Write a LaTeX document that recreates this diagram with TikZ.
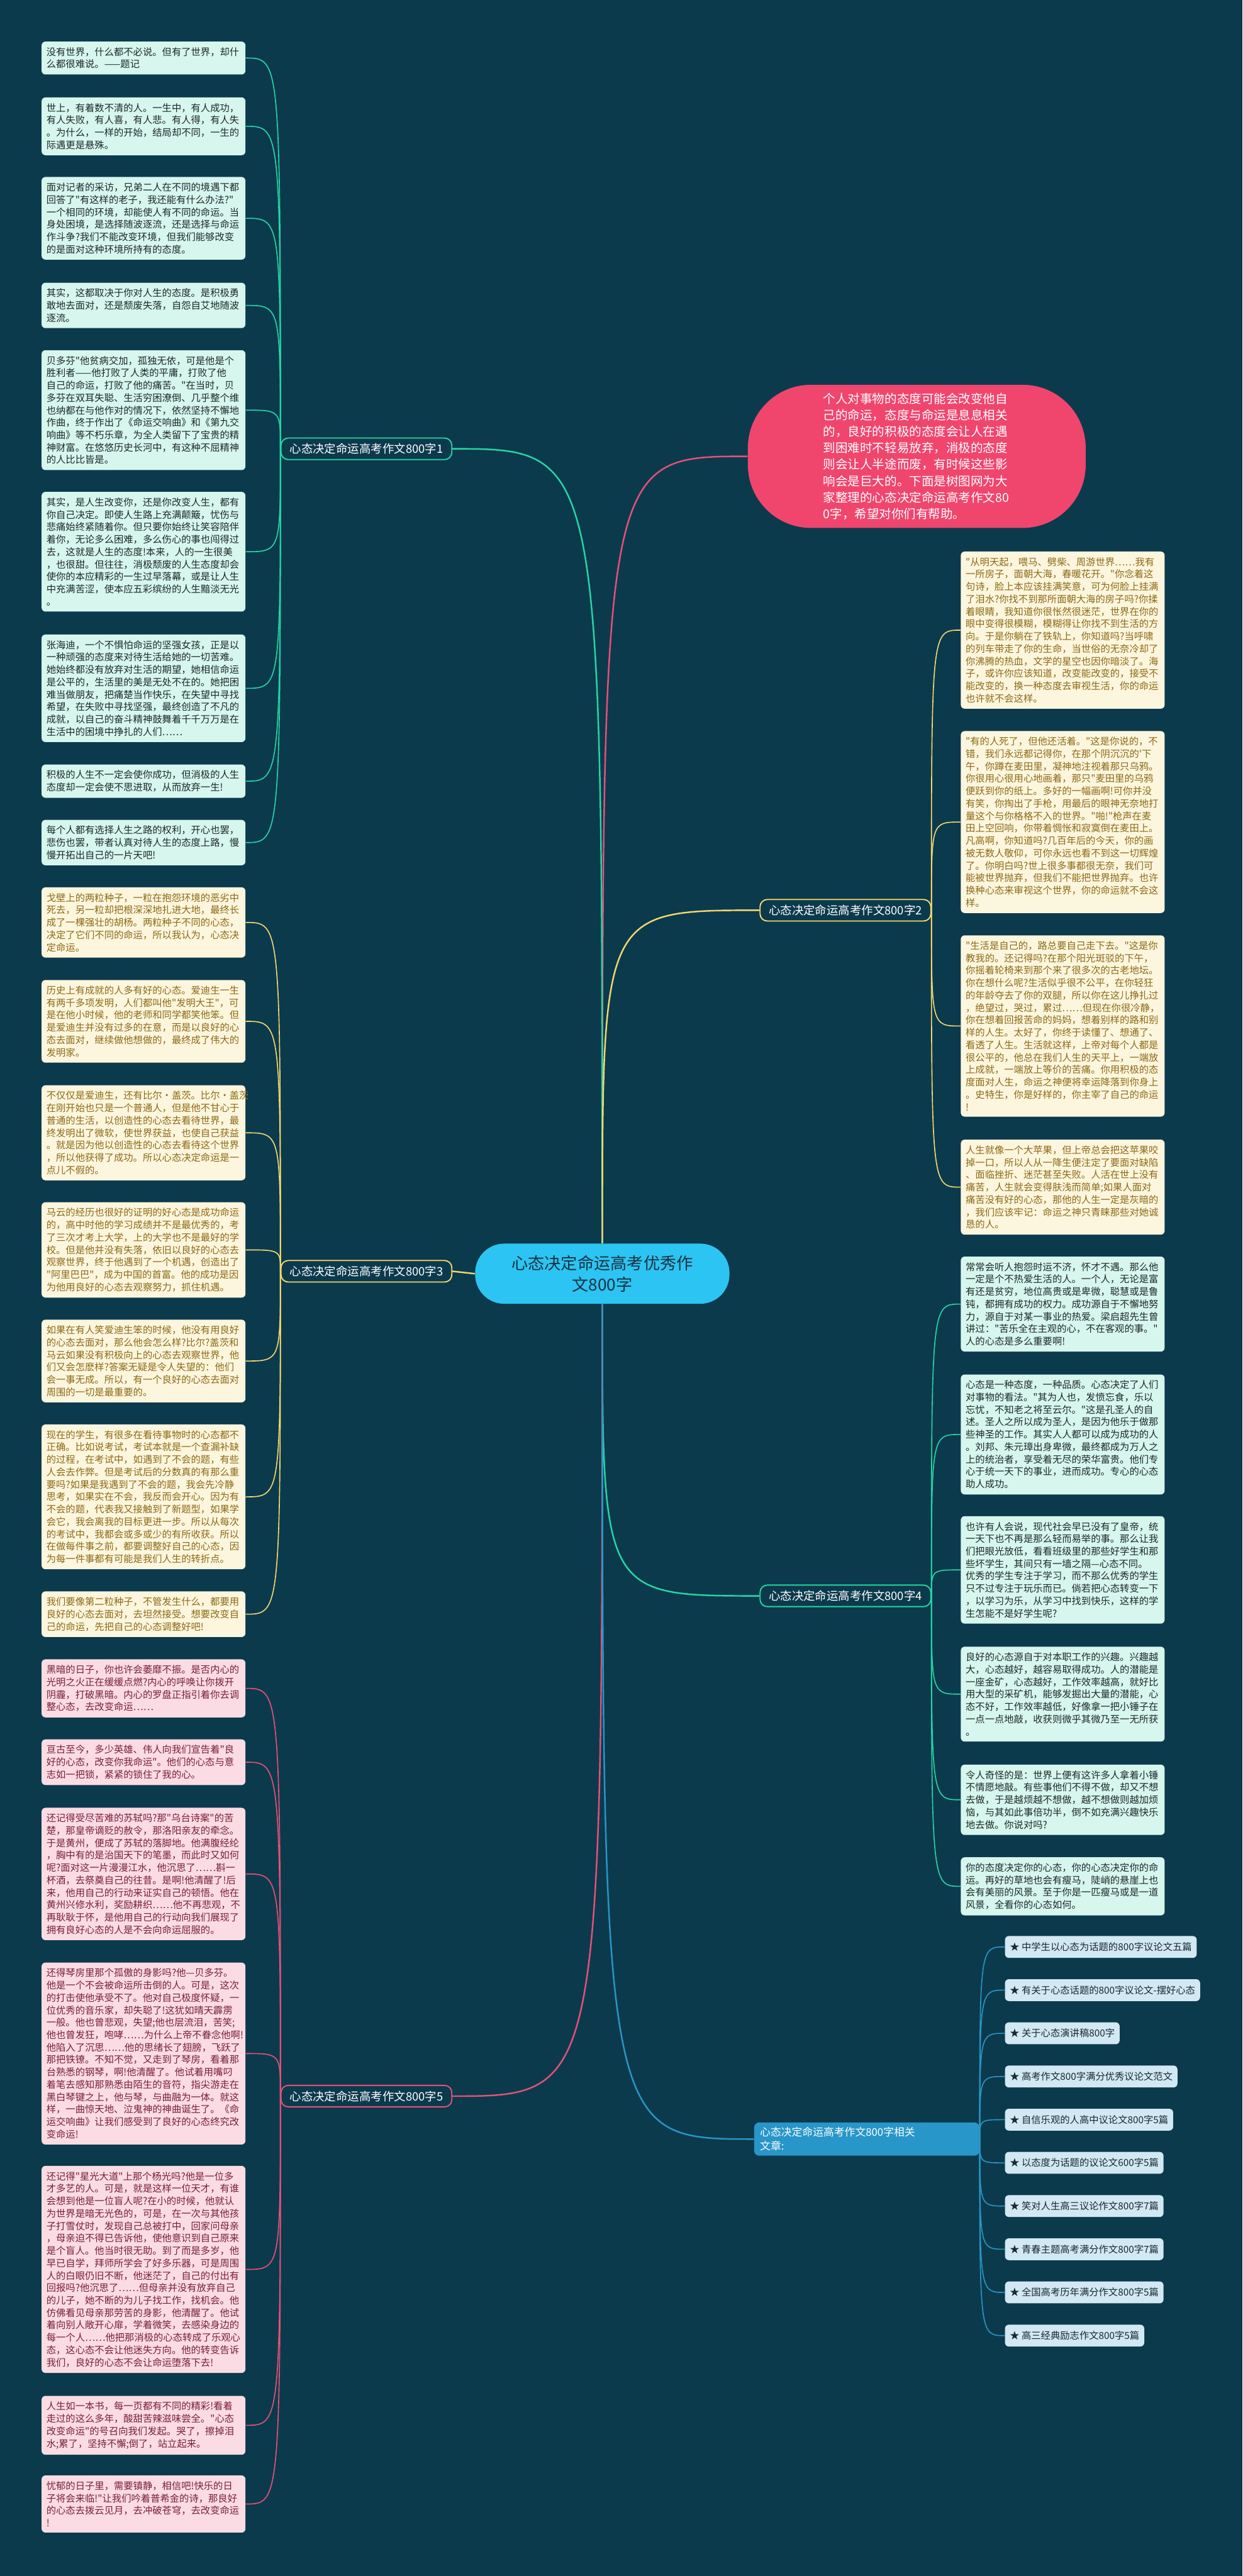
\documentclass[tikz,border=0pt]{standalone}
\usepackage{fontspec}
\newfontfamily\cjk{Noto Sans CJK SC}

\definecolor{bgc}{RGB}{12,58,77}
\definecolor{tealc}{RGB}{38,214,163}
\definecolor{tealfill}{RGB}{214,246,238}
\definecolor{tealtext}{RGB}{30,40,40}
\definecolor{yelc}{RGB}{245,215,110}
\definecolor{yelfill}{RGB}{253,246,222}
\definecolor{yeltext}{RGB}{140,105,20}
\definecolor{pinkc}{RGB}{232,80,120}
\definecolor{pinkfill}{RGB}{251,220,228}
\definecolor{pinktext}{RGB}{120,30,60}
\definecolor{bluec}{RGB}{40,150,200}
\definecolor{bluefill}{RGB}{210,232,242}
\definecolor{bluetext}{RGB}{25,40,50}
\definecolor{introfill}{RGB}{240,70,110}
\definecolor{ctrfill}{RGB}{44,196,242}
\definecolor{ctrtext}{RGB}{25,50,65}

\begin{document}
\begin{tikzpicture}[
    box/.style={anchor=north west, rounded corners=0.08cm, text width=4cm,
      inner xsep=0.1cm, inner ysep=0.12cm, align=left,
      font=\cjk\fontsize{5.65}{7.28}\selectfont},
    tbox/.style={box, fill=tealfill, text=tealtext},
    ybox/.style={box, fill=yelfill, text=yeltext},
    pbox/.style={box, fill=pinkfill, text=pinktext},
    lbox/.style={anchor=west, fill=bluefill, text=bluetext, rounded corners=0.08cm,
      inner xsep=0.1cm, inner ysep=0cm, minimum height=0.45cm,
      font=\cjk\fontsize{5.65}{7.28}\selectfont},
    brnode/.style={font=\cjk\fontsize{6.8}{9}\selectfont, fill=bgc, text=white,
      rounded corners=0.15cm, line width=0.7pt, inner xsep=0.18cm, inner ysep=0.11cm},
    link/.style={line width=0.6pt},
    mainlink/.style={line width=0.9pt},
  ]

  % Background
  \fill[bgc] (0,0) rectangle (25.6,-53.09);

  % Centre and intro
  \node[fill=ctrfill, text=ctrtext, rounded corners=0.6cm, minimum width=5.24cm,
    minimum height=1.24cm, align=center, font=\cjk\fontsize{9.67}{12.8}\selectfont]
    (ctr) at (12.41,-26.25) {心态决定命运高考优秀作\\文800字};
  \node[fill=introfill, text=white, rounded corners=1.3cm, minimum width=6.96cm,
    minimum height=2.95cm, text width=3.85cm, align=left,
    font=\cjk\fontsize{7.2}{9.67}\selectfont] (intro) at (18.89,-9.405)
    {个人对事物的态度可能会改变他自\\己的命运，态度与命运是息息相关\\的，良好的积极的态度会让人在遇\\到困难时不轻易放弃，消极的态度\\则会让人半途而废，有时候这些影\\响会是巨大的。下面是树图网为大\\家整理的心态决定命运高考作文80\\0字，希望对你们有帮助。};

  % Branch nodes
  \node[brnode, draw=tealc] (b1) at (7.55,-9.25) {心态决定命运高考作文800字1};
  \node[brnode, draw=yelc] (b2) at (17.42,-18.76) {心态决定命运高考作文800字2};
  \node[brnode, draw=yelc] (b3) at (7.55,-26.20) {心态决定命运高考作文800字3};
  \node[brnode, draw=tealc] (b4) at (17.42,-32.89) {心态决定命运高考作文800字4};
  \node[brnode, draw=pinkc] (b5) at (7.55,-43.20) {心态决定命运高考作文800字5};
  \node[fill=bluec, text=white, rounded corners=0.1cm, text width=4.4cm, align=left,
    inner xsep=0.12cm, inner ysep=0.1cm, font=\cjk\fontsize{6.2}{8}\selectfont]
    (b6) at (17.86,-44.085) {心态决定命运高考作文800字相关\\文章:};

  % Branch 1 boxes
  \node[tbox] (t1) at (0.85,-0.85) {没有世界，什么都不必说。但有了世界，却什\\么都很难说。——题记};
  \node[tbox] (t2) at (0.85,-2.00) {世上，有着数不清的人。一生中，有人成功，\\有人失败，有人喜，有人悲。有人得，有人失\\。为什么，一样的开始，结局却不同，一生的\\际遇更是悬殊。};
  \node[tbox] (t3) at (0.85,-3.64) {面对记者的采访，兄弟二人在不同的境遇下都\\回答了"有这样的老子，我还能有什么办法?"\\一个相同的环境，却能使人有不同的命运。当\\身处困境，是选择随波逐流，还是选择与命运\\作斗争?我们不能改变环境，但我们能够改变\\的是面对这种环境所持有的态度。};
  \node[tbox] (t4) at (0.85,-5.82) {其实，这都取决于你对人生的态度。是积极勇\\敢地去面对，还是颓废失落，自怨自艾地随波\\逐流。};
  \node[tbox] (t5) at (0.85,-7.21) {贝多芬"他贫病交加，孤独无依，可是他是个\\胜利者——他打败了人类的平庸，打败了他\\自己的命运，打败了他的痛苦。"在当时，贝\\多芬在双耳失聪、生活穷困潦倒、几乎整个维\\也纳都在与他作对的情况下，依然坚持不懈地\\作曲，终于作出了《命运交响曲》和《第九交\\响曲》等不朽乐章，为全人类留下了宝贵的精\\神财富。在悠悠历史长河中，有这种不屈精神\\的人比比皆是。};
  \node[tbox] (t6) at (0.85,-10.13) {其实，是人生改变你，还是你改变人生，都有\\你自己决定。即使人生路上充满颠簸，忧伤与\\悲痛始终紧随着你。但只要你始终让笑容陪伴\\着你，无论多么困难，多么伤心的事也闯得过\\去，这就是人生的态度!本来，人的一生很美\\，也很甜。但往往，消极颓废的人生态度却会\\使你的本应精彩的一生过早落幕，或是让人生\\中充满苦涩，使本应五彩缤纷的人生黯淡无光\\。};
  \node[tbox] (t7) at (0.85,-13.07) {张海迪，一个不惧怕命运的坚强女孩，正是以\\一种顽强的态度来对待生活给她的一切苦难。\\她始终都没有放弃对生活的期望，她相信命运\\是公平的，生活里的美是无处不在的。她把困\\难当做朋友，把痛楚当作快乐，在失望中寻找\\希望，在失败中寻找坚强，最终创造了不凡的\\成就，以自己的奋斗精神鼓舞着千千万万是在\\生活中的困境中挣扎的人们……};
  \node[tbox] (t8) at (0.85,-15.75) {积极的人生不一定会使你成功，但消极的人生\\态度却一定会使不思进取，从而放弃一生!};
  \node[tbox] (t9) at (0.85,-16.89) {每个人都有选择人生之路的权利，开心也罢，\\悲伤也罢，带者认真对待人生的态度上路，慢\\慢开拓出自己的一片天吧!};

  % Branch 3 boxes
  \node[ybox] (y1) at (0.85,-18.28) {戈壁上的两粒种子，一粒在抱怨环境的恶劣中\\死去，另一粒却把根深深地扎进大地，最终长\\成了一棵强壮的胡杨。两粒种子不同的心态，\\决定了它们不同的命运，所以我认为，心态决\\定命运。};
  \node[ybox] (y2) at (0.85,-20.19) {历史上有成就的人多有好的心态。爱迪生一生\\有两千多项发明，人们都叫他"发明大王"，可\\是在他小时候，他的老师和同学都笑他笨。但\\是爱迪生并没有过多的在意，而是以良好的心\\态去面对，继续做他想做的，最终成了伟大的\\发明家。};
  \node[ybox] (y3) at (0.85,-22.36) {不仅仅是爱迪生，还有比尔·盖茨。比尔·盖茨\\在刚开始也只是一个普通人，但是他不甘心于\\普通的生活，以创造性的心态去看待世界，最\\终发明出了微软，使世界获益，也使自己获益\\。就是因为他以创造性的心态去看待这个世界\\，所以他获得了成功。所以心态决定命运是一\\点儿不假的。};
  \node[ybox] (y4) at (0.85,-24.77) {马云的经历也很好的证明的好心态是成功命运\\的，高中时他的学习成绩并不是最优秀的，考\\了三次才考上大学，上的大学也不是最好的学\\校。但是他并没有失落，依旧以良好的心态去\\观察世界，终于他遇到了一个机遇，创造出了\\"阿里巴巴"，成为中国的首富。他的成功是因\\为他用良好的心态去观察努力，抓住机遇。};
  \node[ybox] (y5) at (0.85,-27.19) {如果在有人笑爱迪生笨的时候，他没有用良好\\的心态去面对，那么他会怎么样?比尔?盖茨和\\马云如果没有积极向上的心态去观察世界，他\\们又会怎麽样?答案无疑是令人失望的：他们\\会一事无成。所以，有一个良好的心态去面对\\周围的一切是最重要的。};
  \node[ybox] (y6) at (0.85,-29.35) {现在的学生，有很多在看待事物时的心态都不\\正确。比如说考试，考试本就是一个查漏补缺\\的过程，在考试中，如遇到了不会的题，有些\\人会去作弊。但是考试后的分数真的有那么重\\要吗?如果是我遇到了不会的题，我会先冷静\\思考，如果实在不会，我反而会开心。因为有\\不会的题，代表我又接触到了新题型，如果学\\会它，我会离我的目标更进一步。所以从每次\\的考试中，我都会或多或少的有所收获。所以\\在做每件事之前，都要调整好自己的心态，因\\为每一件事都有可能是我们人生的转折点。};
  \node[ybox] (y7) at (0.85,-32.79) {我们要像第二粒种子，不管发生什么，都要用\\良好的心态去面对，去坦然接受。想要改变自\\己的命运，先把自己的心态调整好吧!};

  % Branch 5 boxes
  \node[pbox] (p1) at (0.85,-34.19) {黑暗的日子，你也许会萎靡不振。是否内心的\\光明之火正在缓缓点燃?内心的呼唤让你拨开\\阴霾，打破黑暗。内心的罗盘正指引着你去调\\整心态，去改变命运……};
  \node[pbox] (p2) at (0.85,-35.84) {亘古至今，多少英雄、伟人向我们宣告着"良\\好的心态，改变你我命运"。他们的心态与意\\志如一把锁，紧紧的锁住了我的心。};
  \node[pbox] (p3) at (0.85,-37.25) {还记得受尽苦难的苏轼吗?那"乌台诗案"的苦\\楚，那皇帝谪贬的赦令，那洛阳亲友的牵念。\\于是黄州，便成了苏轼的落脚地。他满腹经纶\\，胸中有的是治国天下的笔墨，而此时又如何\\呢?面对这一片漫漫江水，他沉思了……斟一\\杯酒，去祭奠自己的往昔。是啊!他清醒了!后\\来，他用自己的行动来证实自己的顿悟。他在\\黄州兴修水利，奖励耕织……他不再悲观，不\\再耿耿于怀，是他用自己的行动向我们展现了\\拥有良好心态的人是不会向命运屈服的。};
  \node[pbox] (p4) at (0.85,-40.44) {还得琴房里那个孤傲的身影吗?他—贝多芬。\\他是一个不会被命运所击倒的人。可是，这次\\的打击使他承受不了。他对自己极度怀疑，一\\位优秀的音乐家，却失聪了!这犹如晴天霹雳\\一般。他也曾悲观，失望;他也层流泪，苦笑;\\他也曾发狂，咆哮……为什么上帝不眷念他啊!\\他陷入了沉思……他的思绪长了翅膀，飞跃了\\那把铁镣。不知不觉，又走到了琴房，看着那\\台熟悉的钢琴，啊!他清醒了。他试着用嘴叼\\着笔去感知那熟悉由陌生的音符，指尖游走在\\黑白琴键之上，他与琴，与曲融为一体。就这\\样，一曲惊天地、泣鬼神的神曲诞生了。《命\\运交响曲》让我们感受到了良好的心态终究改\\变命运!};
  \node[pbox] (p5) at (0.85,-44.63) {还记得"星光大道"上那个杨光吗?他是一位多\\才多艺的人。可是，就是这样一位天才，有谁\\会想到他是一位盲人呢?在小的时候，他就认\\为世界是暗无光色的，可是，在一次与其他孩\\子打雪仗时，发现自己总被打中，回家问母亲\\，母亲迫不得已告诉他，使他意识到自己原来\\是个盲人。他当时很无助。到了而是多岁，他\\早已自学，拜师所学会了好多乐器，可是周围\\人的白眼仍旧不断，他迷茫了，自己的付出有\\回报吗?他沉思了……但母亲并没有放弃自己\\的儿子，她不断的为儿子找工作，找机会。他\\仿佛看见母亲那劳苦的身影，他清醒了。他试\\着向别人敞开心扉，学着微笑，去感染身边的\\每一个人……他把那消极的心态转成了乐观心\\态，这心态不会让他迷失方向。他的转变告诉\\我们，良好的心态不会让命运堕落下去!};
  \node[pbox] (p6) at (0.85,-49.37) {人生如一本书，每一页都有不同的精彩!看着\\走过的这么多年，酸甜苦辣滋味尝全。"心态\\改变命运"的号召向我们发起。哭了，擦掉泪\\水;累了，坚持不懈;倒了，站立起来。};
  \node[pbox] (p7) at (0.85,-51.01) {忧郁的日子里，需要镇静，相信吧!快乐的日\\子将会来临!"让我们吟着普希金的诗，那良好\\的心态去拨云见月，去冲破苍穹，去改变命运\\!};

  % Branch 2 boxes
  \node[ybox] (r1) at (19.79,-11.36) {"从明天起，喂马、劈柴、周游世界……我有\\一所房子，面朝大海，春暖花开。"你念着这\\句诗，脸上本应该挂满笑意，可为何脸上挂满\\了泪水?你找不到那所面朝大海的房子吗?你揉\\着眼睛，我知道你很怅然很迷茫，世界在你的\\眼中变得很模糊，模糊得让你找不到生活的方\\向。于是你躺在了铁轨上，你知道吗?当呼啸\\的列车带走了你的生命，当世俗的无奈冷却了\\你沸腾的热血，文学的星空也因你暗淡了。海\\子，或许你应该知道，改变能改变的，接受不\\能改变的，换一种态度去审视生活，你的命运\\也许就不会这样。};
  \node[ybox] (r2) at (19.79,-15.06) {"有的人死了，但他还活着。"这是你说的，不\\错，我们永远都记得你，在那个阴沉沉的'下\\午，你蹲在麦田里，凝神地注视着那只乌鸦。\\你很用心很用心地画着，那只"麦田里的乌鸦\\便跃到你的纸上。多好的一幅画啊!可你并没\\有笑，你掏出了手枪，用最后的眼神无奈地打\\量这个与你格格不入的世界。"啪!"枪声在麦\\田上空回响，你带着惆怅和寂寞倒在麦田上。\\凡高啊，你知道吗?几百年后的今天，你的画\\被无数人敬仰，可你永远也看不到这一切辉煌\\了。你明白吗?世上很多事都很无奈，我们可\\能被世界抛弃，但我们不能把世界抛弃。也许\\换种心态来审视这个世界，你的命运就不会这\\样。};
  \node[ybox] (r3) at (19.79,-19.27) {"生活是自己的，路总要自己走下去。"这是你\\教我的。还记得吗?在那个阳光斑驳的下午，\\你摇着轮椅来到那个来了很多次的古老地坛。\\你在想什么呢?生活似乎很不公平，在你轻狂\\的年龄夺去了你的双腿，所以你在这儿挣扎过\\，绝望过，哭过，累过……但现在你很冷静，\\你在想着回报苦命的妈妈，想着别样的路和别\\样的人生。太好了，你终于读懂了、想通了、\\看透了人生。生活就这样，上帝对每个人都是\\很公平的，他总在我们人生的天平上，一端放\\上成就，一端放上等价的苦痛。你用积极的态\\度面对人生，命运之神便将幸运降落到你身上\\。史特生，你是好样的，你主宰了自己的命运\\!};
  \node[ybox] (r4) at (19.79,-23.48) {人生就像一个大苹果，但上帝总会把这苹果咬\\掉一口，所以人从一降生便注定了要面对缺陷\\、面临挫折、迷茫甚至失败。人活在世上没有\\痛苦，人生就会变得肤浅而简单;如果人面对\\痛苦没有好的心态，那他的人生一定是灰暗的\\，我们应该牢记：命运之神只青睐那些对她诚\\恳的人。};

  % Branch 4 boxes
  \node[tbox] (s1) at (19.79,-25.89) {常常会听人抱怨时运不济，怀才不遇。那么他\\一定是个不热爱生活的人。一个人，无论是富\\有还是贫穷，地位高贵或是卑微，聪慧或是鲁\\钝，都拥有成功的权力。成功源自于不懈地努\\力，源自于对某一事业的热爱。梁启超先生曾\\讲过："苦乐全在主观的心，不在客观的事。"\\人的心态是多么重要啊!};
  \node[tbox] (s2) at (19.79,-28.32) {心态是一种态度，一种品质。心态决定了人们\\对事物的看法。"其为人也，发愤忘食，乐以\\忘忧，不知老之将至云尔。"这是孔圣人的自\\述。圣人之所以成为圣人，是因为他乐于做那\\些神圣的工作。其实人人都可以成为成功的人\\。刘邦、朱元璋出身卑微，最终都成为万人之\\上的统治者，享受着无尽的荣华富贵。他们专\\心于统一天下的事业，进而成功。专心的心态\\助人成功。};
  \node[tbox] (s3) at (19.79,-31.24) {也许有人会说，现代社会早已没有了皇帝，统\\一天下也不再是那么轻而易举的事。那么让我\\们把眼光放低，看看班级里的那些好学生和那\\些坏学生，其间只有一墙之隔—心态不同。\\优秀的学生专注于学习，而不那么优秀的学生\\只不过专注于玩乐而已。倘若把心态转变一下\\，以学习为乐，从学习中找到快乐，这样的学\\生怎能不是好学生呢?};
  \node[tbox] (s4) at (19.79,-33.93) {良好的心态源自于对本职工作的兴趣。兴趣越\\大，心态越好，越容易取得成功。人的潜能是\\一座金矿，心态越好，工作效率越高，就好比\\用大型的采矿机，能够发掘出大量的潜能，心\\态不好，工作效率越低，好像拿一把小锤子在\\一点一点地敲，收获则微乎其微乃至一无所获\\。};
  \node[tbox] (s5) at (19.79,-36.36) {令人奇怪的是：世界上便有这许多人拿着小锤\\不情愿地敲。有些事他们不得不做，却又不想\\去做，于是越烦越不想做，越不想做则越加烦\\恼，与其如此事倍功半，倒不如充满兴趣快乐\\地去做。你说对吗?};
  \node[tbox] (s6) at (19.79,-38.27) {你的态度决定你的心态，你的心态决定你的命\\运。再好的草地也会有瘦马，陡峭的悬崖上也\\会有美丽的风景。至于你是一匹瘦马或是一道\\风景，全看你的心态如何。};

  % Related articles
  \foreach \txt [count=\i] in {中学生以心态为话题的800字议论文五篇, 有关于心态话题的800字议论文-摆好心态,
      关于心态演讲稿800字, 高考作文800字满分优秀议论文范文, 自信乐观的人高中议论文800字5篇,
      以态度为话题的议论文600字5篇, 笑对人生高三议论作文800字7篇, 青春主题高考满分作文800字7篇,
      全国高考历年满分作文800字5篇, 高三经典励志作文800字5篇}
    \node[lbox] (l\i) at (20.70,-40.125-0.89*\i+0.89) {★ \txt};

  % Centre to branches
  \draw[mainlink, pinkc] (ctr.north) .. controls (ctr.north |- intro.west) .. (intro.west);
  \draw[mainlink, tealc] (ctr.north) .. controls (ctr.north |- b1.east) .. (b1.east);
  \draw[mainlink, yelc] (ctr.north) .. controls (ctr.north |- b2.west) .. (b2.west);
  \draw[mainlink, yelc] (ctr.west) -- (b3.east);
  \draw[mainlink, tealc] (ctr.south) .. controls (ctr.south |- b4.west) .. (b4.west);
  \draw[mainlink, pinkc] (ctr.south) .. controls (ctr.south |- b5.east) .. (b5.east);
  \draw[mainlink, bluec] (ctr.south) .. controls (ctr.south |- b6.west) .. (b6.west);

  % Fans to boxes
  \foreach \bx in {t1,t2,t3,t4,t5,t6,t7,t8,t9}
    \draw[link, tealc] (b1.west) .. controls (b1.west |- \bx.east) .. (\bx.east);
  \foreach \bx in {y1,y2,y3,y4,y5,y6,y7}
    \draw[link, yelc] (b3.west) .. controls (b3.west |- \bx.east) .. (\bx.east);
  \foreach \bx in {p1,p2,p3,p4,p5,p6,p7}
    \draw[link, pinkc] (b5.west) .. controls (b5.west |- \bx.east) .. (\bx.east);
  \foreach \bx in {r1,r2,r3,r4}
    \draw[link, yelc] (b2.east) .. controls (b2.east |- \bx.west) .. (\bx.west);
  \foreach \bx in {s1,s2,s3,s4,s5,s6}
    \draw[link, tealc] (b4.east) .. controls (b4.east |- \bx.west) .. (\bx.west);
  \foreach \i in {1,...,10}
    \draw[link, bluec] (b6.east) .. controls (b6.east |- l\i.west) .. (l\i.west);
\end{tikzpicture}
\end{document}
